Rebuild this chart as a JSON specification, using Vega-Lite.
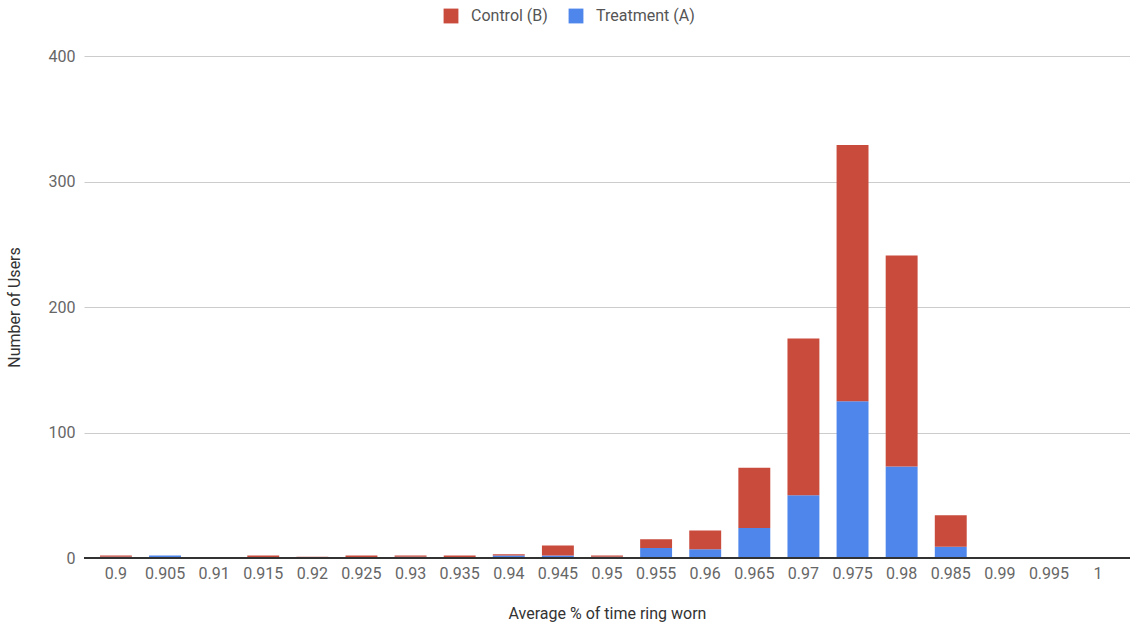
{
  "$schema": "https://vega.github.io/schema/vega-lite/v6.json",
  "width": 1046,
  "height": 502,
  "autosize": "none",
  "padding": {"left": 84, "top": 56, "right": 0, "bottom": 67},
  "background": "white",
  "config": {
    "font": "Roboto",
    "view": {"stroke": null},
    "axis": {"labelFont": "Roboto", "titleFont": "Roboto", "titleFontWeight": "normal"}
  },
  "data": {
    "values": [
      {"bucket": "0.9", "group": "Treatment (A)", "users": 1},
      {"bucket": "0.9", "group": "Control (B)", "users": 1},
      {"bucket": "0.905", "group": "Treatment (A)", "users": 2},
      {"bucket": "0.905", "group": "Control (B)", "users": 0},
      {"bucket": "0.91", "group": "Treatment (A)", "users": 0},
      {"bucket": "0.91", "group": "Control (B)", "users": 0},
      {"bucket": "0.915", "group": "Treatment (A)", "users": 0},
      {"bucket": "0.915", "group": "Control (B)", "users": 2},
      {"bucket": "0.92", "group": "Treatment (A)", "users": 0},
      {"bucket": "0.92", "group": "Control (B)", "users": 1},
      {"bucket": "0.925", "group": "Treatment (A)", "users": 0},
      {"bucket": "0.925", "group": "Control (B)", "users": 2},
      {"bucket": "0.93", "group": "Treatment (A)", "users": 1},
      {"bucket": "0.93", "group": "Control (B)", "users": 1},
      {"bucket": "0.935", "group": "Treatment (A)", "users": 0},
      {"bucket": "0.935", "group": "Control (B)", "users": 2},
      {"bucket": "0.94", "group": "Treatment (A)", "users": 2},
      {"bucket": "0.94", "group": "Control (B)", "users": 1},
      {"bucket": "0.945", "group": "Treatment (A)", "users": 2},
      {"bucket": "0.945", "group": "Control (B)", "users": 8},
      {"bucket": "0.95", "group": "Treatment (A)", "users": 1},
      {"bucket": "0.95", "group": "Control (B)", "users": 1},
      {"bucket": "0.955", "group": "Treatment (A)", "users": 8},
      {"bucket": "0.955", "group": "Control (B)", "users": 7},
      {"bucket": "0.96", "group": "Treatment (A)", "users": 7},
      {"bucket": "0.96", "group": "Control (B)", "users": 15},
      {"bucket": "0.965", "group": "Treatment (A)", "users": 24},
      {"bucket": "0.965", "group": "Control (B)", "users": 48},
      {"bucket": "0.97", "group": "Treatment (A)", "users": 50},
      {"bucket": "0.97", "group": "Control (B)", "users": 125},
      {"bucket": "0.975", "group": "Treatment (A)", "users": 125},
      {"bucket": "0.975", "group": "Control (B)", "users": 204},
      {"bucket": "0.98", "group": "Treatment (A)", "users": 73},
      {"bucket": "0.98", "group": "Control (B)", "users": 168},
      {"bucket": "0.985", "group": "Treatment (A)", "users": 9},
      {"bucket": "0.985", "group": "Control (B)", "users": 25},
      {"bucket": "0.99", "group": "Treatment (A)", "users": 0},
      {"bucket": "0.99", "group": "Control (B)", "users": 0},
      {"bucket": "0.995", "group": "Treatment (A)", "users": 0},
      {"bucket": "0.995", "group": "Control (B)", "users": 0},
      {"bucket": "1", "group": "Treatment (A)", "users": 0},
      {"bucket": "1", "group": "Control (B)", "users": 0}
    ]
  },
  "layer": [
    {
      "mark": {"type": "bar"},
      "encoding": {
        "x": {
          "field": "bucket",
          "type": "nominal",
          "sort": null,
          "scale": {"paddingInner": 0.35, "paddingOuter": 0.325},
          "axis": {
            "title": "Average % of time ring worn",
            "titleFontSize": 16,
            "titleColor": "#333333",
            "titlePadding": 24,
            "labelAngle": 0,
            "labelFontSize": 16,
            "labelColor": "#666666",
            "labelPadding": 7,
            "ticks": false,
            "domain": false,
            "grid": false
          }
        },
        "y": {
          "field": "users",
          "type": "quantitative",
          "stack": "zero",
          "scale": {"domain": [0, 400], "nice": false},
          "axis": {
            "title": "Number of Users",
            "titleFontSize": 16,
            "titleColor": "#333333",
            "titlePadding": 26,
            "values": [0, 100, 200, 300, 400],
            "labelFontSize": 16,
            "labelColor": "#666666",
            "labelPadding": 9,
            "ticks": false,
            "domain": false,
            "grid": true,
            "gridColor": "#cccccc",
            "gridWidth": 1
          }
        },
        "color": {
          "field": "group",
          "type": "nominal",
          "scale": {"domain": ["Control (B)", "Treatment (A)"], "range": ["#c94b3c", "#4f86ec"]},
          "legend": {
            "title": null,
            "orient": "none",
            "direction": "horizontal",
            "legendX": 359,
            "legendY": -48,
            "symbolType": "square",
            "symbolSize": 220,
            "symbolStrokeWidth": 0,
            "labelFontSize": 16,
            "labelColor": "#555555",
            "labelFont": "Roboto",
            "columnPadding": 20,
            "labelOffset": 12
          }
        },
        "order": {"field": "group", "sort": "descending"}
      }
    },
    {
      "mark": {"type": "rule", "color": "#333333", "strokeWidth": 1},
      "encoding": {"y": {"datum": 0, "type": "quantitative"}}
    }
  ]
}
